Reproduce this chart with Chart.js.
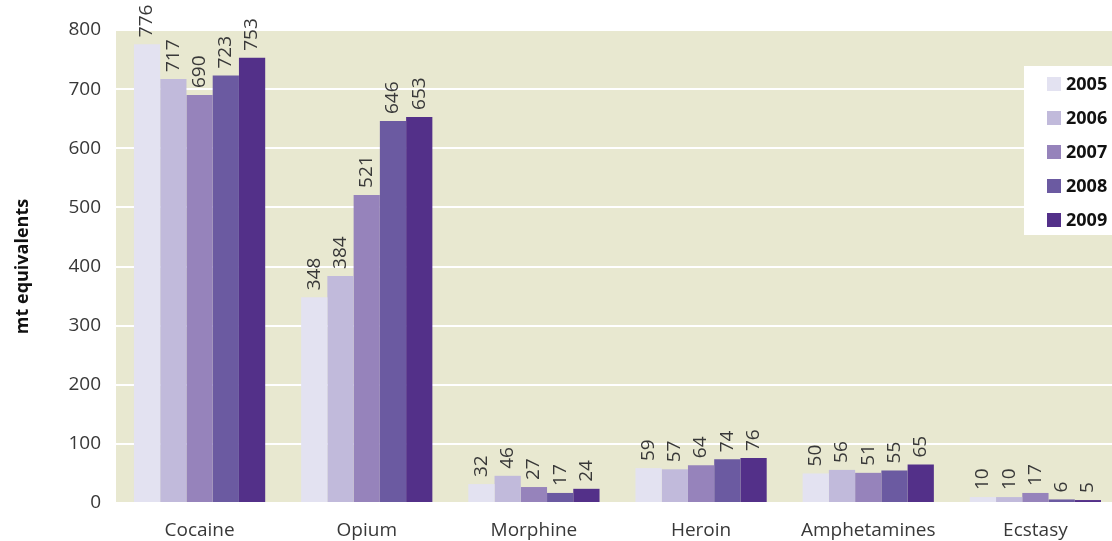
<!DOCTYPE html>
<html><head><meta charset="utf-8">
<script src="https://cdn.jsdelivr.net/npm/chart.js@4"></script>
<style>html,body{margin:0;padding:0;background:#fff;overflow:hidden}#wrap{width:1112px;height:541px;position:relative;overflow:hidden}</style>
</head><body><div id="wrap"><canvas id="c" width="1119" height="541"></canvas></div>
<script>
const categories = ["Cocaine","Opium","Morphine","Heroin","Amphetamines","Ecstasy"];
const years = ["2005","2006","2007","2008","2009"];
const v2005 = [776,348,32,59,50,10];
const v2006 = [717,384,46,57,56,10];
const v2007 = [690,521,27,64,51,17];
const v2008 = [723,646,17,74,55,6];
const v2009 = [753,653,24,76,65,5];
const yTicks = [0,100,200,300,400,500,600,700,800];
const colors = ["#E3E2F1","#C1BADB","#9683BB","#6B5AA1","#533089"];
const FONT = "'Open Sans','Noto Sans',sans-serif";

const series = [v2005,v2006,v2007,v2008,v2009];
const bgPlugin = {
  id:'bg',
  beforeDraw(chart){
    const {ctx, chartArea:a} = chart;
    ctx.save(); ctx.fillStyle='#E8E8D0';
    ctx.fillRect(a.left,a.top,a.right-a.left,a.bottom-a.top);
    ctx.restore();
  }
};
const labelPlugin = {
  id:'vals',
  afterDatasetsDraw(chart){
    const ctx = chart.ctx;
    ctx.save();
    ctx.font = "19px " + FONT;
    ctx.fillStyle = '#383838';
    ctx.textBaseline='middle';
    ctx.textAlign='left';
    chart.data.datasets.forEach((ds,i)=>{
      chart.getDatasetMeta(i).data.forEach((bar,j)=>{
        ctx.save();
        ctx.translate(bar.x, bar.y - 7);
        ctx.rotate(-Math.PI/2);
        ctx.fillText(String(ds.data[j]),0,0);
        ctx.restore();
      });
    });
    ctx.restore();
  }
};
const legendPlugin = {
  id:'lg',
  afterDraw(chart){
    const ctx = chart.ctx;
    const x0 = 1024, y0 = 66, w = 95, h = 169;
    ctx.save();
    ctx.fillStyle='#fff'; ctx.fillRect(x0,y0,w,h);
    ctx.font = "bold 18px " + FONT;
    ctx.textBaseline='middle'; ctx.textAlign='left';
    chart.data.datasets.forEach((ds,i)=>{
      const cy = y0 + 18 + i*34;
      ctx.fillStyle = ds.backgroundColor;
      ctx.fillRect(x0+23, cy-7, 14, 14);
      ctx.fillStyle = '#111';
      ctx.fillText(ds.label, x0+42, cy+1);
    });
    ctx.restore();
  }
};

new Chart(document.getElementById('c'), {
  type:'bar',
  data:{
    labels: categories,
    datasets: years.map((y,i)=>({label:y, data:series[i], backgroundColor:colors[i], borderWidth:0,
      categoryPercentage:0.785, barPercentage:1.0}))
  },
  options:{
    responsive:false, animation:false,
    layout:{padding:{top:30,right:0,bottom:0,left:0}},
    plugins:{legend:{display:false}, tooltip:{enabled:false}},
    scales:{
      x:{
        afterFit(s){ s.height = 38; },
        grid:{display:false, drawTicks:false}, border:{display:false},
        ticks:{color:'#383838', font:{family:FONT,size:19}, padding:16, maxRotation:0}
      },
      y:{
        min:0,max:800,
        afterBuildTicks(s){ s.ticks = yTicks.map(v=>({value:v})); },
        afterFit(s){ s.width = 116; },
        grid:{color:'#ffffff', lineWidth:2, drawTicks:false}, border:{display:false},
        ticks:{color:'#383838', font:{family:FONT,size:19}, padding:15},
        title:{display:true, text:'mt equivalents', color:'#111', font:{family:FONT,size:18,weight:'bold'}, padding:{top:12,bottom:0}}
      }
    }
  },
  plugins:[bgPlugin,labelPlugin,legendPlugin]
});
</script></body></html>
